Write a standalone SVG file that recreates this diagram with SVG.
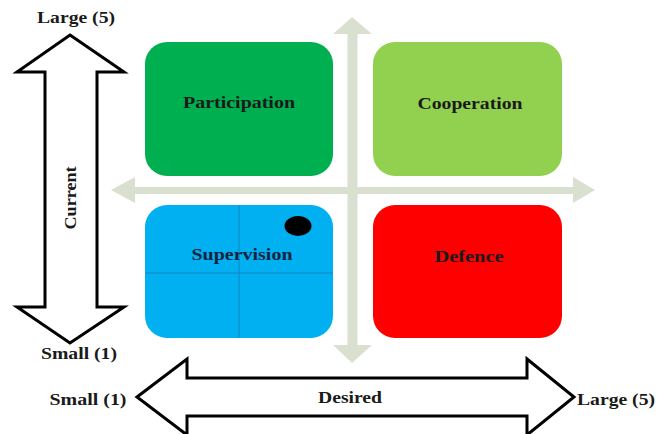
<svg xmlns="http://www.w3.org/2000/svg" width="668" height="434" viewBox="0 0 668 434">
<style>
.t{font-family:"Liberation Serif","Times New Roman",serif;font-weight:bold;font-size:16px;fill:#1a1a1a}
.box{stroke:none}
.big{fill:#fff;stroke:#000;stroke-width:3;stroke-linejoin:miter}
.cross{fill:#d9e0cf}
</style>
<rect width="668" height="434" fill="#fff"/>
<g id="connectors">
<polygon class="cross" points="352,17 372,34 357.5,34 357.5,187 573,187 573,177 595,190 573,203 573,194 357.5,194 357.5,345 372,345 352,363 333,345 347.5,345 347.5,194 135,194 135,203 111,190 135,177 135,187 347.5,187 347.5,34 333,34"/>
</g>
<g id="participation">
<rect class="box" x="145" y="42" width="188" height="134" rx="22" fill="#00b050"/>
<text class="t" x="239" y="108" text-anchor="middle" textLength="112" lengthAdjust="spacingAndGlyphs">Participation</text>
</g>
<g id="cooperation">
<rect class="box" x="373" y="42" width="189" height="134" rx="22" fill="#92d050"/>
<text class="t" x="470" y="109" text-anchor="middle" textLength="105" lengthAdjust="spacingAndGlyphs">Cooperation</text>
</g>
<g id="supervision">
<rect class="box" x="145" y="205" width="188" height="133" rx="22" fill="#00b0f0"/>
<line x1="239" y1="205" x2="239" y2="338" stroke="#1f78b4" stroke-width="0.8"/>
<line x1="145" y1="273" x2="333" y2="273" stroke="#1f78b4" stroke-width="0.8"/>
<text class="t" x="242" y="260" text-anchor="middle" textLength="101" lengthAdjust="spacingAndGlyphs" style="fill:#14233f">Supervision</text>
<ellipse cx="298" cy="226" rx="13.5" ry="10" fill="#000"/>
</g>
<g id="defence">
<rect class="box" x="373" y="205" width="189" height="133" rx="22" fill="#ff0000"/>
<text class="t" x="469" y="262" text-anchor="middle" textLength="69" lengthAdjust="spacingAndGlyphs">Defence</text>
</g>
<g id="current-axis">
<polygon class="big" points="70,35 124,72 97,72 97,307 124,307 70,343 17,307 45,307 45,72 17,72"/>
<text class="t" transform="translate(76,198) rotate(-90)" x="0" y="0" text-anchor="middle" textLength="63" lengthAdjust="spacingAndGlyphs">Current</text>
<text class="t" x="76" y="23" text-anchor="middle" textLength="78" lengthAdjust="spacingAndGlyphs">Large (5)</text>
<text class="t" x="79" y="359" text-anchor="middle" textLength="76" lengthAdjust="spacingAndGlyphs">Small (1)</text>
</g>
<g id="desired-axis">
<polygon class="big" points="137,397 187,359 187,378 527,378 527,359 574,397 527,435 527,416 187,416 187,435"/>
<text class="t" x="350" y="403" text-anchor="middle" textLength="64" lengthAdjust="spacingAndGlyphs">Desired</text>
<text class="t" x="88" y="405" text-anchor="middle" textLength="77" lengthAdjust="spacingAndGlyphs">Small (1)</text>
<text class="t" x="616" y="405" text-anchor="middle" textLength="78" lengthAdjust="spacingAndGlyphs">Large (5)</text>
</g>
</svg>
